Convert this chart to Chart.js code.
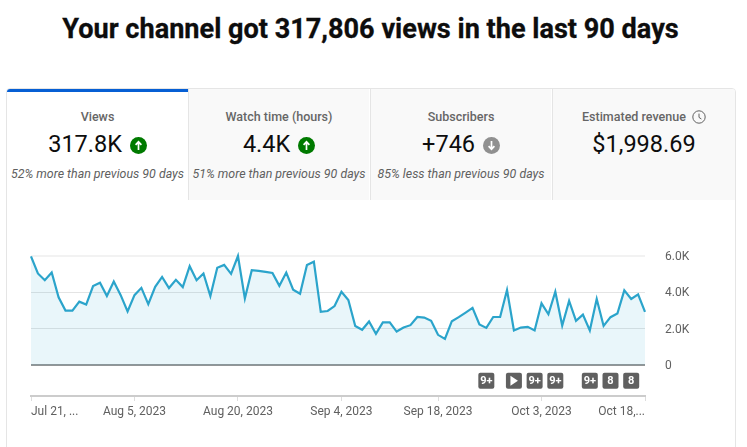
<!DOCTYPE html>
<html>
<head>
<meta charset="utf-8">
<title>Channel views</title>
<script src="https://cdn.jsdelivr.net/npm/chart.js@4/dist/chart.umd.min.js"></script>
<style>
  html, body { margin: 0; padding: 0; background: #fff; }
  body { width: 747px; height: 447px; overflow: hidden; position: relative; font-family: Roboto, sans-serif; color: #0d0d0d; }
  h1 { position: absolute; left: 0; top: 11px; width: 741px; margin: 0; text-align: center; font-size: 27.1px; line-height: 36px; font-weight: 700; -webkit-text-stroke: 0.3px #0d0d0d; }
  .card { position: absolute; left: 6px; top: 88px; width: 728px; height: 380px; border: 1px solid #e5e5e5; border-radius: 4px 4px 0 0; overflow: hidden; }
  .tab { position: absolute; top: 0; width: 181px; height: 111px; background: #f9f9f9; border-left: 1px solid #e5e5e5; text-align: center; box-sizing: border-box; }
  .tab.on { background: #fff; border-top: 3px solid #065fd4; border-left: 0; }
  .tab .name { position: absolute; left: 0; right: 0; top: 20px; font-size: 12.5px; line-height: 16px; font-weight: 500; color: #666666; }
  .tab .val { position: absolute; left: 0; right: 0; top: 40px; font-size: 23.5px; line-height: 30px; color: #0d0d0d; }
  .tab .sub { position: absolute; left: 0; right: 0; top: 77px; font-size: 12.4px; line-height: 16px; font-style: italic; color: #606060; white-space: nowrap; }
  .tab.on .name { top: 17px; } .tab.on .val { top: 37px; } .tab.on .sub { top: 74px; }
  .tab .val svg { vertical-align: -2px; margin-left: 2px; }
  #wrap { position: absolute; left: 0; top: 0; width: 747px; height: 447px; }
</style>
</head>
<body>
<h1>Your channel got 317,806 views in the last 90 days</h1>
<div class="card">
  <div class="tab on" style="left:0">
    <div class="name">Views</div>
    <div class="val">317.8K <svg width="17" height="17" viewBox="0 0 17 17"><circle cx="8.5" cy="8.5" r="8.5" fill="#007a00"/><path d="M8.5 13V5M5.6 7.8 8.5 4.8l2.9 3" stroke="#fff" stroke-width="1.7" fill="none"/></svg></div>
    <div class="sub">52% more than previous 90 days</div>
  </div>
  <div class="tab" style="left:181px">
    <div class="name">Watch time (hours)</div>
    <div class="val">4.4K <svg width="17" height="17" viewBox="0 0 17 17"><circle cx="8.5" cy="8.5" r="8.5" fill="#007a00"/><path d="M8.5 13V5M5.6 7.8 8.5 4.8l2.9 3" stroke="#fff" stroke-width="1.7" fill="none"/></svg></div>
    <div class="sub">51% more than previous 90 days</div>
  </div>
  <div class="tab" style="left:363px">
    <div class="name">Subscribers</div>
    <div class="val">+746 <svg width="17" height="17" viewBox="0 0 17 17"><circle cx="8.5" cy="8.5" r="8.5" fill="#909090"/><path d="M8.5 4V12M5.6 9.2 8.5 12.2l2.9-3" stroke="#fff" stroke-width="1.7" fill="none"/></svg></div>
    <div class="sub">85% less than previous 90 days</div>
  </div>
  <div class="tab" style="left:545px;width:183px">
    <div class="name">Estimated revenue <svg width="14" height="14" viewBox="0 0 14 14" style="margin-left:3px;vertical-align:-3px"><circle cx="7" cy="7" r="6.2" stroke="#606060" fill="none"/><path d="M7 3.6V7.4L9.4 9" stroke="#606060" fill="none"/></svg></div>
    <div class="val">$1,998.69</div>
  </div>
</div>
<div id="wrap"><canvas id="chart" width="747" height="447"></canvas></div>
<script>
const views = [
  5980, 5040, 4670, 5090, 3730, 3000, 3000, 3490, 3330, 4350,
  4530, 3800, 4600, 3850, 2960, 3850, 4250, 3360, 4310, 4850,
  4240, 4690, 4290, 5440, 4670, 5040, 3800, 5350, 5510, 5020,
  6000, 3670, 5220, 5180, 5130, 5070, 4360, 5090, 4150, 3930,
  5510, 5690, 2930, 2980, 3250, 4040, 3580, 2160, 1950, 2400,
  1730, 2350, 2350, 1850, 2070, 2200, 2650, 2620, 2440, 1670,
  1450, 2420, 2640, 2890, 3150, 2240, 2050, 2650, 2650, 4130,
  1910, 2070, 2110, 1910, 3400, 2800, 4040, 2180, 3530, 2440,
  2780, 1910, 3640, 2160, 2640, 2840, 4110, 3640, 3890, 2930,
];
const days = views.map((_, i) => "Day " + (i + 1));
const xTickIndex = [0, 15, 30, 45, 59, 74, 89];
const xTickLabels = ["Jul 21, ...", "Aug 5, 2023", "Aug 20, 2023", "Sep 4, 2023", "Sep 18, 2023", "Oct 3, 2023", "Oct 18,..."];
const yTicks = [0, 2000, 4000, 6000];
const markerIndex = [66, 70, 73, 76, 81, 84, 87];
const markerLabels = ["9+", "play", "9+", "9+", "9+", "8", "8"];

const MUTED = "#606060";
const LANE_MIN = -1690; // room under zero for the marker row
const LANE_MID = -850;

// first and last date labels hug the plot edges, value labels sit 1px lower
const edgeLabels = {
  id: "edgeLabels",
  beforeDraw(chart) {
    const items = chart.scales.x.getLabelItems();
    items[0].options.textAlign = "left";
    items[items.length - 1].options.textAlign = "right";
    chart.scales.y.getLabelItems().forEach((it) => { it.options.translation[1] += 1; });
  },
};

const markers = {
  id: "markers",
  afterDraw(chart) {
    const { ctx, scales } = chart;
    const y = scales.y.getPixelForValue(LANE_MID);
    ctx.save();
    markerIndex.forEach((idx, i) => {
      const x = scales.x.getPixelForValue(idx);
      ctx.fillStyle = MUTED;
      ctx.beginPath();
      ctx.roundRect(x - 8, y - 8, 16, 16, 2);
      ctx.fill();
      ctx.fillStyle = "#fff";
      if (markerLabels[i] === "play") {
        ctx.beginPath();
        ctx.moveTo(x - 3.5, y - 5);
        ctx.lineTo(x + 4, y);
        ctx.lineTo(x - 3.5, y + 5);
        ctx.fill();
      } else {
        ctx.font = "700 11px Roboto";
        ctx.textAlign = "center";
        ctx.textBaseline = "middle";
        ctx.fillText(markerLabels[i], x, y + 0.5);
      }
    });
    ctx.restore();
  },
};

new Chart(document.getElementById("chart"), {
  type: "line",
  data: {
    labels: days,
    datasets: [{
      data: views,
      borderColor: "#2ba4cb",
      backgroundColor: "rgba(43,164,203,0.1)",
      borderWidth: 2.2,
      tension: 0,
      pointRadius: 0,
      fill: { value: 0 },
      clip: false,
    }],
  },
  options: {
    responsive: false,
    animation: false,
    layout: { padding: { left: 31, top: 256 } },
    plugins: { legend: { display: false }, tooltip: { enabled: false } },
    scales: {
      x: {
        afterBuildTicks: (s) => { s.ticks = xTickIndex.map((value) => ({ value })); },
        afterFit: (s) => { s.height = 51; },
        border: { color: "#cccccc", width: 2 },
        grid: { drawOnChartArea: false, tickLength: 5, color: "#dddddd" },
        ticks: {
          autoSkip: false, maxRotation: 0, padding: 4, color: MUTED,
          font: { family: "Roboto", size: 12 },
          callback: (v, i) => xTickLabels[i],
        },
      },
      y: {
        position: "right",
        min: LANE_MIN,
        max: 6000,
        afterBuildTicks: (s) => { s.ticks = yTicks.map((value) => ({ value })); },
        afterFit: (s) => { s.width = 102; },
        border: { display: false },
        grid: {
          drawTicks: false,
          color: (c) => (c.tick.value === 0 ? "#969696" : c.tick.value === 6000 ? "#f2f2f2" : "#e4e4e4"),
          lineWidth: (c) => (c.tick.value === 0 || c.tick.value === 6000 ? 2 : 1),
        },
        ticks: {
          padding: 20, color: MUTED,
          font: { family: "Roboto", size: 12 },
          callback: (v) => (v === 0 ? "0" : (v / 1000).toFixed(1) + "K"),
        },
      },
    },
  },
  plugins: [edgeLabels, markers],
});
</script>
</body>
</html>
